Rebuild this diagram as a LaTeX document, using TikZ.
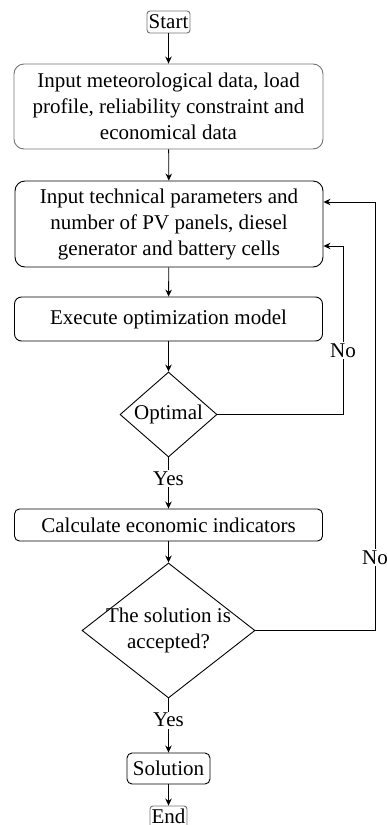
\documentclass[tikz,border=0pt]{standalone}
\usepackage{fontspec}
\setmainfont{LiberationSerif}[Extension=.ttf, UprightFont=*-Regular, BoldFont=*-Bold]
\usetikzlibrary{shapes.geometric,arrows.meta}
\begin{document}
\begin{tikzpicture}[x=1pt,y=-1pt,
  every node/.style={font=\rmfamily\fontsize{21}{26}\selectfont},
  box/.style={draw, rounded corners=7pt, line width=0.9pt, align=center, inner sep=0pt},
  graybox/.style={box, draw=black!55},
  dec/.style={draw, diamond, aspect=1, line width=0.9pt, align=center, inner sep=0pt},
  lab/.style={fill=white, inner sep=1.5pt},
  arr/.style={line width=0.9pt, -{Stealth[length=7pt,width=6.5pt]}}
]
\useasboundingbox (0,0) rectangle (387,825);
\node[graybox, minimum width=43pt, minimum height=22pt, rounded corners=3pt] (start) at (168.5,22) {Start};
\node[graybox, minimum width=309pt, minimum height=85pt, rounded corners=10pt] (b1) at (168.5,106.5) {Input meteorological data, load\\profile, reliability constraint and\\economical data};
\node[box, minimum width=308pt, minimum height=86pt, rounded corners=10pt] (b2) at (169,224) {Input technical parameters and\\number of PV panels, diesel\\generator and battery cells};
\node[box, minimum width=308pt, minimum height=44pt] (b3) at (168.5,319) {Execute optimization model};
\node[dec, minimum width=97pt, minimum height=85pt] (d1) at (168.5,414.5) {};
\node at (168.5,414.5) {Optimal};
\node[box, minimum width=308pt, minimum height=32pt, rounded corners=5pt] (b4) at (168.5,525) {Calculate economic indicators};
\node[dec, minimum width=173pt, minimum height=135pt] (d2) at (168.5,630.5) {};
\node[align=center] at (168.5,630.5) {The solution is\\accepted?};
\node[box, minimum width=83pt, minimum height=31pt, rounded corners=5pt] (sol) at (168.5,768.5) {Solution};
\node[graybox, minimum width=37pt, minimum height=24pt, rounded corners=3pt] (end) at (168.5,818) {};
\node at (168.5,816) {End};
\coordinate (c1a) at (343,414.5);
\coordinate (c1b) at (343,246);
\coordinate (c2a) at (375,630.5);
\coordinate (c2b) at (375,202);
\draw[arr] (start) -- (b1);
\draw[arr] (b1) -- (b2);
\draw[arr] (b2) -- (b3);
\draw[arr] (b3) -- (d1);
\draw[arr] (d1) -- node[lab, pos=0.42] (y1) {Yes} (b4);
\draw[arr] (b4) -- (d2);
\draw[arr] (d2) -- node[lab, pos=0.4] (y2) {Yes} (sol);
\draw[arr] (sol) -- (end);
\draw[arr] (d1.east) -- (c1a) -- node[lab, pos=0.38] (n1) {No} (c1b) -- (b2.east |- c1b);
\draw[arr] (d2.east) -- (c2a) -- node[lab, pos=0.17] (n2) {No} (c2b) -- (b2.east |- c2b);
\end{tikzpicture}
\end{document}
